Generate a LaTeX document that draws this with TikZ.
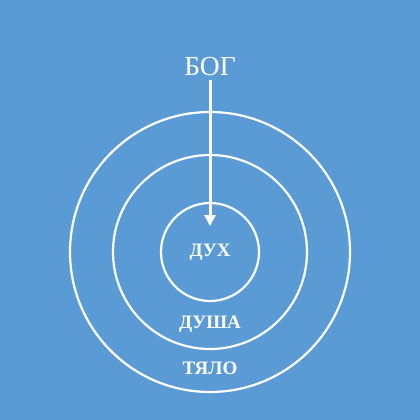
\documentclass[tikz,border=0pt]{standalone}
\usepackage{fontspec}
\setmainfont{Liberation Serif}
\usetikzlibrary{arrows.meta}
\definecolor{bg}{HTML}{5B9BD5}
\begin{document}
\begin{tikzpicture}[x=1pt,y=-1pt,
  ring/.style={draw=white,line width=2.2pt},
  lbl/.style={text=white,font=\bfseries\fontsize{19}{22}\selectfont,inner sep=0pt}]
\fill[bg] (0,0) rectangle (420,420);
\useasboundingbox (0,0) rectangle (420,420);
\node[ring,circle,minimum size=280pt,inner sep=0pt] (outer) at (210,252) {};
\node[ring,circle,minimum size=194pt,inner sep=0pt] (middle) at (210,252) {};
\node[ring,circle,minimum size=98pt,inner sep=0pt] (inner) at (210,252) {};
\node[text=white,font=\fontsize{27.5}{32}\selectfont,inner sep=0pt] (god) at (210,67) {БОГ};
\node[lbl] (spirit) at (210,252) {ДУХ};
\node[lbl] (soul) at (210,324) {ДУША};
\node[lbl] (body) at (210,368) {ТЯЛО};
\coordinate (tip) at (210,226);
\draw[white,line width=3pt,-{Triangle[length=11pt,width=11pt]}] ([yshift=-4pt]god.south) -- (tip);
\end{tikzpicture}
\end{document}
